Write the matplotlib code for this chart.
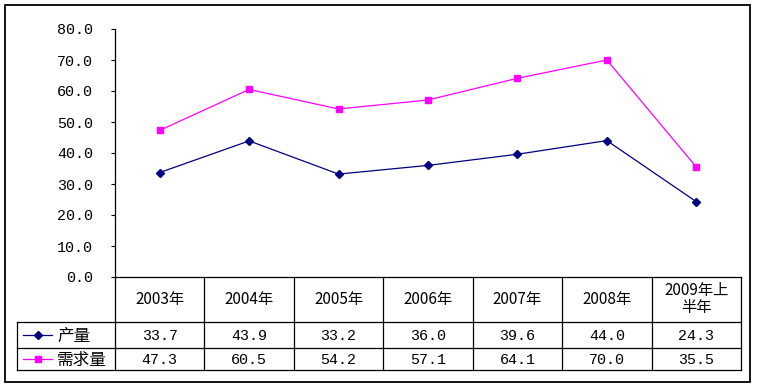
import matplotlib
matplotlib.use('Agg')
import matplotlib.pyplot as plt
from matplotlib.patches import Rectangle

plt.rcParams['font.family'] = ['Noto Sans CJK SC', 'DejaVu Sans']
NUM_FONT = ['Liberation Mono', 'DejaVu Sans Mono']

years = ['2003年', '2004年', '2005年', '2006年', '2007年', '2008年', '2009年上\n半年']
output = [33.7, 43.9, 33.2, 36.0, 39.6, 44.0, 24.3]
demand = [47.3, 60.5, 54.2, 57.1, 64.1, 70.0, 35.5]
series_names = ['产量', '需求量']
yticks = [0, 10, 20, 30, 40, 50, 60, 70, 80]

W, H = 758, 389
fig = plt.figure(figsize=(W / 100, H / 100), dpi=100)

# pixel layout of the Excel-like chart
x0, x1 = 115, 741          # plot area left / right
ytop, ybase = 29, 277      # y=80 and y=0
lab_left = 17              # left edge of the legend column
row_lines = [277, 322, 348, 370]
colw = (x1 - x0) / len(years)


def fx(p):
    return p / W


def fy(p):
    return 1 - p / H


ax = fig.add_axes([fx(x0), fy(ybase), fx(x1 - x0), (ybase - ytop) / H])
xs = [i + 0.5 for i in range(len(years))]
ax.plot(xs, output, color='#000080', lw=0.9, marker='D', ms=4.2, label=series_names[0])
ax.plot(xs, demand, color='#FF00FF', lw=0.9, marker='s', ms=4.8, label=series_names[1])
ax.set_xlim(0, len(years))
ax.set_ylim(0, 80)
ax.set_yticks(yticks)
ax.set_yticklabels(['%.1f' % v for v in yticks], fontsize=10.8, family=NUM_FONT)
ax.set_xticks([])
ax.tick_params(axis='y', length=3, width=0.8, pad=13)
for s in ['top', 'right']:
    ax.spines[s].set_visible(False)
for s in ['left', 'bottom']:
    ax.spines[s].set_linewidth(0.9)
    ax.spines[s].set_color('black')

# data table below the plot
lw_cols = (x0 - lab_left) / colw
tab = fig.add_axes([fx(lab_left), fy(row_lines[-1]), fx(x1 - lab_left),
                    (row_lines[-1] - row_lines[0]) / H])
tab.set_xlim(-lw_cols, len(years))
tab.set_ylim(row_lines[-1], row_lines[0])
tab.axis('off')
kw = dict(color='black', lw=0.9, clip_on=False)
for y in row_lines[1:]:
    tab.plot([-lw_cols, len(years)], [y, y], **kw)
tab.plot([-lw_cols, -lw_cols], [row_lines[1], row_lines[-1]], **kw)
for i in range(len(years) + 1):
    tab.plot([i, i], [row_lines[0], row_lines[-1]], **kw)

hdr_y = (row_lines[0] + row_lines[1]) / 2
r1_y = (row_lines[1] + row_lines[2]) / 2
r2_y = (row_lines[2] + row_lines[3]) / 2
for i, yr in enumerate(years):
    tab.text(i + 0.5, hdr_y, yr, ha='center', va='center', fontsize=11, linespacing=1.0)
    tab.text(i + 0.5, r1_y + 1, '%.1f' % output[i], ha='center', va='center',
             fontsize=10.8, family=NUM_FONT)
    tab.text(i + 0.5, r2_y + 1, '%.1f' % demand[i], ha='center', va='center',
             fontsize=10.8, family=NUM_FONT)

# legend keys in the first column
lx0 = (23 - x0) / colw
lx1 = (52 - x0) / colw
tx = (57 - x0) / colw
for ry, name, col, mk, ms in [(r1_y, series_names[0], '#000080', 'D', 4.2),
                              (r2_y, series_names[1], '#FF00FF', 's', 4.8)]:
    tab.plot([lx0, lx1], [ry, ry], color=col, lw=0.9, clip_on=False)
    tab.plot([(lx0 + lx1) / 2], [ry], color=col, marker=mk, ms=ms, clip_on=False)
    tab.text(tx, ry + 1, name, ha='left', va='center', fontsize=12)

fig.patches.append(Rectangle((fx(5), fy(382)), fx(745), (382 - 5) / H,
                             transform=fig.transFigure, fill=False,
                             edgecolor='black', lw=1.3))

fig.savefig('out.png', dpi=100, facecolor='white')
